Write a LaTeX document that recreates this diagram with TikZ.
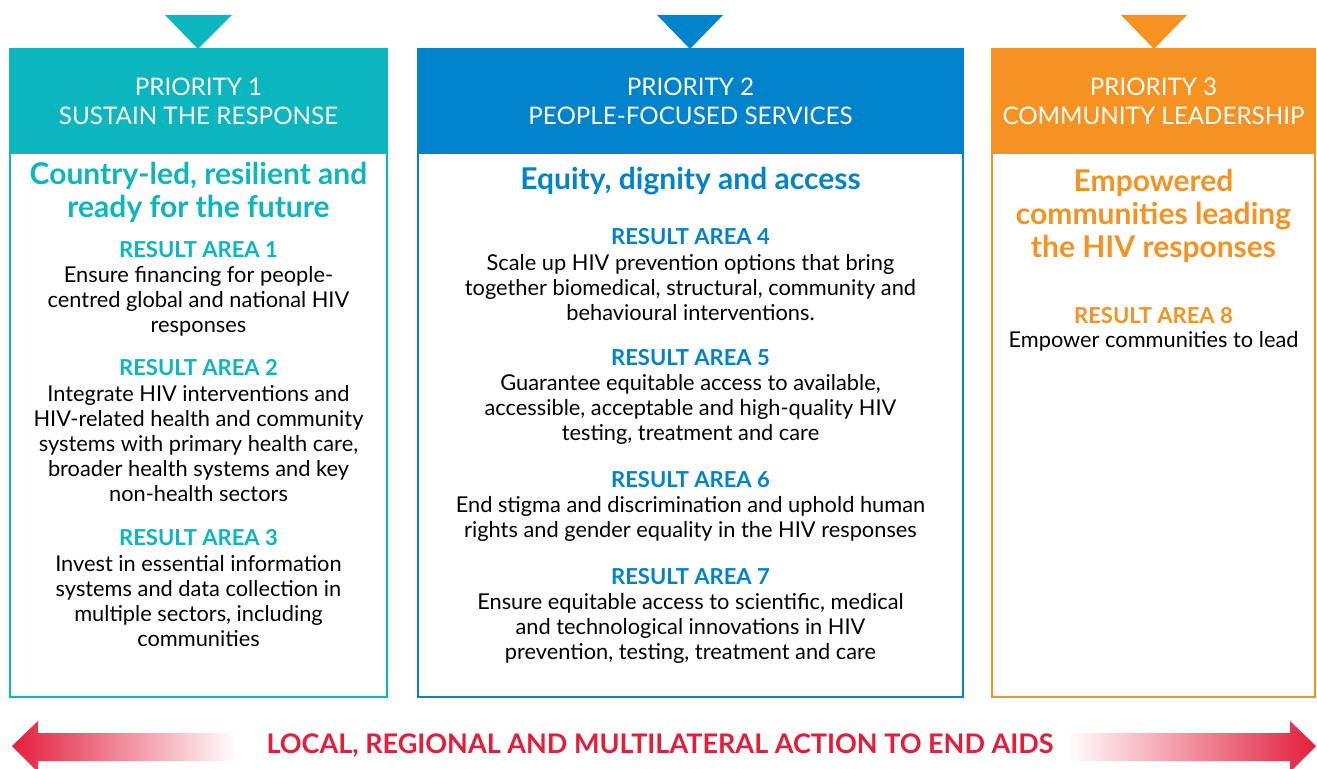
\documentclass[tikz,border=0pt]{standalone}
\usepackage{fontspec}
\setmainfont{Lato}
\usetikzlibrary{positioning}
\definecolor{pteal}{RGB}{12,182,190}
\definecolor{pblue}{RGB}{0,131,202}
\definecolor{porange}{RGB}{245,146,34}
\definecolor{pred}{RGB}{227,30,59}
\tikzset{
  frame/.style={draw=#1, line width=1.25pt},
  headfill/.style={fill=#1, draw=#1, line width=1.25pt},
  headtext/.style={text=white, align=center, inner sep=0pt,
    font=\fontsize{12.1}{14.5}\selectfont},
  goal/.style={text=#1, align=center, inner sep=0pt,
    font=\bfseries\fontsize{15}{16.5}\selectfont},
  ralabel/.style={text=#1, inner sep=0pt, font=\bfseries\fontsize{11}{12.5}\selectfont},
  ratext/.style={align=center, inner sep=0pt, font=\fontsize{10.9}{12.5}\selectfont},
  marker/.style={fill=#1}
}
\begin{document}
\begin{tikzpicture}[x=0.5pt,y=-0.5pt]
  \useasboundingbox (0,0) rectangle (1317,769);

  % priority 1
  \fill[marker=pteal] (165,15) -- (232,15) -- (198,49) -- cycle;
  \draw[frame=pteal] (10,49) rectangle (387,697);
  \draw[headfill=pteal] (10,49) rectangle (387,153);
  \node[headtext] (p1) at (198.5,101.5) {PRIORITY 1\\SUSTAIN THE RESPONSE};
  \node[goal=pteal] (g1) at (198.5,192.5) {Country-led, resilient and\\ready for the future};
  \node[ralabel=pteal] (ra1) at (198.5,250) {RESULT AREA 1};
  \node[ratext] (t1) at (198.5,301) {Ensure financing for people-\\centred global and national HIV\\responses};
  \node[ralabel=pteal] (ra2) at (198.5,368) {RESULT AREA 2};
  \node[ratext] (t2) at (198.5,444) {Integrate HIV interventions and\\HIV-related health and community\\systems with primary health care,\\broader health systems and key\\non-health sectors};
  \node[ralabel=pteal] (ra3) at (198.5,538) {RESULT AREA 3};
  \node[ratext] (t3) at (198.5,601.5) {Invest in essential information\\systems and data collection in\\multiple sectors, including\\communities};

  % priority 2
  \fill[marker=pblue] (657,15) -- (723,15) -- (690,49) -- cycle;
  \draw[frame=pblue] (418,49) rectangle (963,697);
  \draw[headfill=pblue] (418,49) rectangle (963,153);
  \node[headtext] (p2) at (690.5,101.5) {PRIORITY 2\\PEOPLE-FOCUSED SERVICES};
  \node[goal=pblue] (g2) at (690.5,181) {Equity, dignity and access};
  \node[ralabel=pblue] (ra4) at (690.5,237) {RESULT AREA 4};
  \node[ratext] (t4) at (690.5,287.5) {Scale up HIV prevention options that bring\\together biomedical, structural, community and\\behavioural interventions.};
  \node[ralabel=pblue] (ra5) at (690.5,358) {RESULT AREA 5};
  \node[ratext] (t5) at (690.5,409) {Guarantee equitable access to available,\\accessible, acceptable and high-quality HIV\\testing, treatment and care};
  \node[ralabel=pblue] (ra6) at (690.5,480) {RESULT AREA 6};
  \node[ratext] (t6) at (690.5,518.5) {End stigma and discrimination and uphold human\\rights and gender equality in the HIV responses};
  \node[ralabel=pblue] (ra7) at (690.5,577) {RESULT AREA 7};
  \node[ratext] (t7) at (690.5,628) {Ensure equitable access to scientific, medical\\and technological innovations in HIV\\prevention, testing, treatment and care};

  % priority 3
  \fill[marker=porange] (1121,15) -- (1187,15) -- (1154,49) -- cycle;
  \draw[frame=porange] (992,49) rectangle (1315,697);
  \draw[headfill=porange] (992,49) rectangle (1315,153);
  \node[headtext] (p3) at (1153.5,101.5) {PRIORITY 3\\COMMUNITY LEADERSHIP};
  \node[goal=porange] (g3) at (1153.5,216) {Empowered\\communities leading\\the HIV responses};
  \node[ralabel=porange] (ra8) at (1153.5,316) {RESULT AREA 8};
  \node[ratext] (t8) at (1153.5,341) {Empower communities to lead};

  % bottom band
  \shade[left color=pred, right color=white]
    (12,746) -- (38,721) -- (38,733) -- (238,733) -- (238,761) -- (38,761) -- (38,772) -- cycle;
  \shade[left color=white, right color=pred]
    (1316,746) -- (1290,721) -- (1290,733) -- (1067,733) -- (1067,761) -- (1290,761) -- (1290,772) -- cycle;
  \node[text=pred, inner sep=0pt, font=\bfseries\fontsize{13.5}{15}\selectfont] (action) at (660,746)
    {LOCAL, REGIONAL AND MULTILATERAL ACTION TO END AIDS};
\end{tikzpicture}
\end{document}
